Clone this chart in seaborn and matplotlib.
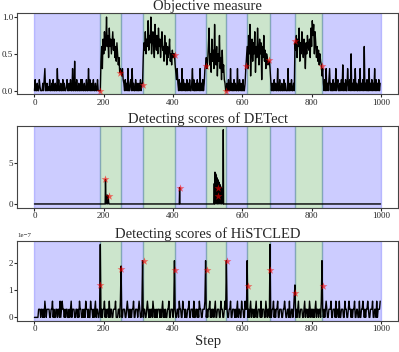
import numpy as np
import matplotlib
matplotlib.use("Agg")
import matplotlib.pyplot as plt
import seaborn as sns

# change points (steps) - green = anomalous segments
GREEN_SPANS = [(188, 250), (313, 405), (496, 553), (613, 679), (753, 829)]
BLUE_SPANS = [(0, 188), (250, 313), (405, 496), (553, 613), (679, 753), (829, 1000)]

# objective measure, one char per 2 steps, base-36 digit / 20
OBJECTIVE = (
    "0300200310 0020360020 1030020300 2006030020 0302001300 2030060080 "
    "0300200303 0020030060 3002030020 0300 "
    "00 8c6eagbdkc f9hceadgbe 9c8da7956 "
    "5463203020 6002306020 0302002030 2 "
    "2 9dbgaecjbf dkaegc9idb fahce9dgbc 8fad7c9be8 a7b9a "
    "a753620302 0603020030 2030026030 0203020602 03026 "
    "7968ch7a5 e8b6i97c4a 8f693b5732 "
    "0020300602 0030200600 3020030026 "
    "9c6fai4be8 dag5c9hb7e ad3c9f8b6a 978 "
    "8630200302 0060030020 0302000600 2030020 "
    "dbf9ech8da gc9eb6dafc be9hcjfiag d9c8b7a8 "
    "7462030602 0360200302 0602300203 0702030062 030a020306 "
    "0200306020 30c0203006 0203020603 020302"
)
OBJ_STAR_X = [190, 248, 314, 406, 494, 552, 610, 678, 752, 829]
OBJ_STAR_Y = [0.0, 0.24, 0.08, 0.49, 0.33, 0.0, 0.33, 0.42, 0.67, 0.33]

# DETect scores: zero except these steps
DET_STEPS = [205, 206, 207, 208, 209, 210, 211, 212, 213, 214, 419,
             519, 520, 521, 522, 523, 524, 525, 526, 527, 528, 529, 530,
             531, 532, 533, 534, 535, 536, 537, 538, 539, 540, 541, 542,
             543, 544, 545, 546]
DET_VALS = [3.0, 1.1, 0.0, 1.0, 0.2, 1.1, 0.0, 0.9, 1.0, 0.3, 2.0,
            2.5, 0.0, 3.9, 0.2, 3.7, 0.0, 3.5, 0.3, 3.2, 0.0, 3.0, 0.2,
            2.8, 0.0, 2.6, 0.3, 2.4, 0.0, 2.2, 0.1, 2.0, 0.0, 1.8, 0.2,
            1.5, 0.0, 9.1, 0.0]
DET_STAR_X = [205, 214, 419, 529, 529]
DET_STAR_Y = [3.05, 1.0, 2.0, 2.0, 1.0]

# HiSTCLED scores, one char per 2 steps, base-36 digit / 10, unit 1e-7
HISTCLED = (
    "0000003330 3303063033 3300336030 0330330603 6330303300 "
    "3036033300 3303063300 3030633030 0633030360 33003r0303 "
    "3603033060 3300333600 03306j0033 3003630303 0336003330 "
    "363003l033 0036303033 0630303033 3030360303 0033600333 "
    "03l3003306 3300633030 0336003330 6003303063 3003336l03 "
    "0336030330 3600333006 3300363l30 0336003330 3036033006 "
    "3300633l03 0360330303 6003330603 3300630330 r003360303 "
    "3600333003 3630033060 033038c030 3600333003 6033030630 "
    "3303036033 03306l3030 3630033360 0333060330 6003330063 "
    "3003633030 3360033006 0033630303 3630033360 0330603336"
)
HIS_STAR_X = [190, 250, 317, 405, 497, 557, 617, 680, 752, 832]
HIS_STAR_Y = [1.2, 1.8, 2.07, 1.77, 1.77, 2.07, 1.17, 1.77, 0.9, 1.17]


def decode(s, scale):
    s = s.replace(" ", "")
    return np.array([int(c, 36) for c in s], dtype=float) * scale


obj = decode(OBJECTIVE, 0.05)
his = decode(HISTCLED, 0.1) * 1e-7
det = np.zeros(1000)
det[DET_STEPS] = DET_VALS

sns.set_theme(style="ticks")
plt.rcParams["font.family"] = ["Liberation Serif", "DejaVu Serif"]

fig = plt.figure(figsize=(3.99, 3.52), dpi=100)
ax1 = fig.add_axes([0.043, 0.732, 0.955, 0.230])
ax2 = fig.add_axes([0.043, 0.410, 0.955, 0.232])
ax3 = fig.add_axes([0.043, 0.088, 0.955, 0.228])


def shade(ax):
    for a, b in BLUE_SPANS:
        ax.axvspan(a, b, color="blue", alpha=0.2)
    for a, b in GREEN_SPANS:
        ax.axvspan(a, b, color="green", alpha=0.2)


panels = [
    (ax1, np.arange(len(obj)) * 2, obj, OBJ_STAR_X, OBJ_STAR_Y,
     "Objective measure"),
    (ax2, np.arange(len(det)), det, DET_STAR_X, DET_STAR_Y,
     "Detecting scores of DETect"),
    (ax3, np.arange(len(his)) * 2, his, HIS_STAR_X,
     np.array(HIS_STAR_Y) * 1e-7, "Detecting scores of HiSTCLED"),
]
for ax, xs, ys, sx, sy, title in panels:
    shade(ax)
    sns.lineplot(x=xs, y=ys, ax=ax, color="black", linewidth=1.0,
                 estimator=None)
    sns.scatterplot(x=sx, y=sy, ax=ax, marker="*", color="red", s=35,
                    alpha=0.6, linewidth=0, zorder=3)
    ax.set_title(title, fontsize=10.5, pad=1)
    ax.set_xticks([0, 200, 400, 600, 800, 1000])
    ax.tick_params(labelsize=6.5, length=2, pad=1, width=0.8)
    for sp in ax.spines.values():
        sp.set_linewidth(0.8)
        sp.set_color("#444444")

ax1.set_yticks([0.0, 0.5, 1.0])
ax2.set_yticks([0, 5])
ax3.set_yticks([0, 1e-7, 2e-7])
ax3.yaxis.get_offset_text().set_fontsize(5)
ax3.set_xlabel("Step", fontsize=10.5, labelpad=1)

fig.savefig("out.png", dpi=100)
